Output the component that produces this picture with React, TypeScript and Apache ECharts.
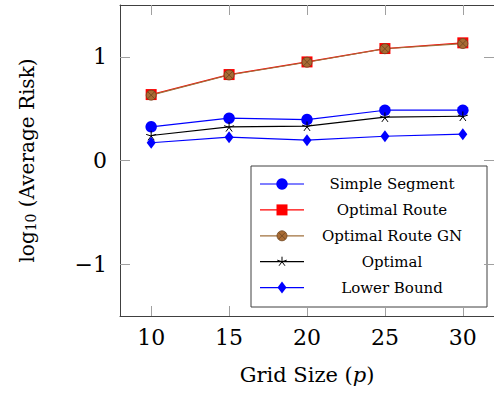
import React, { useEffect, useRef } from 'react';
import * as echarts from 'echarts';

const gridSizes = [10, 15, 20, 25, 30];
const seriesNames = ['Simple Segment', 'Optimal Route', 'Optimal Route GN', 'Optimal', 'Lower Bound'];
const simpleSegment = [0.325, 0.408, 0.395, 0.485, 0.485];
const optimalRoute = [0.636, 0.829, 0.951, 1.08, 1.135];
const optimalRouteGN = [0.63, 0.825, 0.948, 1.078, 1.128];
const optimal = [0.241, 0.325, 0.331, 0.418, 0.427];
const lowerBound = [0.171, 0.225, 0.196, 0.234, 0.254];
const xTicks = [10, 15, 20, 25, 30];
const yTicks = [-1, 0, 1];

const FONT = 'DejaVu Serif';
const BLUE = '#0000ff';
const RED = '#ff0000';
const BROWN = '#a0703c';
const BROWN_FILL = '#a86b34';
const BROWN_DARK = '#6e4520';

const STAR = 'path://M0,0L0,-1M0,0L0.951,-0.309M0,0L0.588,0.809M0,0L-0.588,0.809M0,0L-0.951,-0.309';
const OTIMES = 'path://M0,-1A1,1 0 1,1 0,1A1,1 0 1,1 0,-1ZM-0.707,-0.707L0.707,0.707M-0.707,0.707L0.707,-0.707';

const pairs = (ys: number[]) => gridSizes.map((x, i) => [x, ys[i]]);

export default function App() {
  const ref = useRef<HTMLDivElement>(null);
  useEffect(() => {
    document.body.style.margin = '0';
    const chart = echarts.init(ref.current!, null, { renderer: 'svg' });

    const tick = { inside: true, length: 10, lineStyle: { color: '#a0a0a0', width: 1 } };
    const line = { onZero: false, lineStyle: { color: '#404040', width: 1 } };

    const lx0 = 260, lx1 = 304, mx = 282, tx = 392;
    const rowY = (i: number) => 184 + i * 25.9;
    const legendChildren: any[] = [
      { type: 'rect', shape: { x: 251, y: 166, width: 236, height: 141 }, style: { fill: '#fff', stroke: '#404040', lineWidth: 1 } },
    ];
    const lineColors = [BLUE, RED, BROWN, '#000', BLUE];
    seriesNames.forEach((name, i) => {
      const y = rowY(i);
      legendChildren.push({ type: 'line', shape: { x1: lx0, y1: y, x2: lx1, y2: y }, style: { stroke: lineColors[i], lineWidth: 1.2 } });
      legendChildren.push({ type: 'text', style: { x: tx, y, text: name, align: 'center', verticalAlign: 'middle', fontFamily: FONT, fontSize: 15, fill: '#000' } });
      if (i === 0) legendChildren.push({ type: 'circle', shape: { cx: mx, cy: y, r: 5.7 }, style: { fill: BLUE } });
      if (i === 1) legendChildren.push({ type: 'rect', shape: { x: mx - 5.5, y: y - 5.5, width: 11, height: 11 }, style: { fill: RED } });
      if (i === 2) {
        legendChildren.push({ type: 'circle', shape: { cx: mx, cy: y, r: 5 }, style: { fill: BROWN_FILL, stroke: BROWN_DARK, lineWidth: 0.8 } });
        legendChildren.push({ type: 'line', shape: { x1: mx - 3.5, y1: y - 3.5, x2: mx + 3.5, y2: y + 3.5 }, style: { stroke: BROWN_DARK, lineWidth: 0.8 } });
        legendChildren.push({ type: 'line', shape: { x1: mx - 3.5, y1: y + 3.5, x2: mx + 3.5, y2: y - 3.5 }, style: { stroke: BROWN_DARK, lineWidth: 0.8 } });
      }
      if (i === 3) {
        for (let k = 0; k < 5; k++) {
          const a = -Math.PI / 2 + (k * 2 * Math.PI) / 5;
          legendChildren.push({ type: 'line', shape: { x1: mx, y1: y, x2: mx + 5 * Math.cos(a), y2: y + 5 * Math.sin(a) }, style: { stroke: '#000', lineWidth: 1 } });
        }
      }
      if (i === 4) legendChildren.push({ type: 'polygon', shape: { points: [[mx, y - 6], [mx + 4.5, y], [mx, y + 6], [mx - 4.5, y]] }, style: { fill: BLUE } });
    });

    const baseSeries = (name: string, data: number[], color: string, extra: any) => ({
      name,
      type: 'line',
      data: pairs(data),
      lineStyle: { color, width: 1.2 },
      itemStyle: { color },
      z: 2,
      ...extra,
    });

    chart.setOption({
      animation: false,
      grid: { left: 120, top: 5, width: 380, height: 311 },
      xAxis: [
        {
          type: 'value', min: 8, max: 32, position: 'bottom',
          axisLine: line, axisTick: { ...tick, customValues: xTicks }, splitLine: { show: false },
          axisLabel: { customValues: xTicks, fontFamily: FONT, fontSize: 22, color: '#000', margin: 10 },
          name: 'Grid Size ({i|p})', nameLocation: 'middle', nameGap: 48,
          nameTextStyle: { fontFamily: FONT, fontSize: 21, color: '#000', rich: { i: { fontFamily: FONT, fontSize: 21, fontStyle: 'italic', color: '#000' } } },
        },
        {
          type: 'value', min: 8, max: 32, position: 'top',
          axisLine: line, axisTick: { ...tick, customValues: xTicks }, splitLine: { show: false }, axisLabel: { show: false },
        },
      ],
      yAxis: [
        {
          type: 'value', min: -1.5, max: 1.5, position: 'left',
          axisLine: line, axisTick: { ...tick, customValues: yTicks }, splitLine: { show: false },
          axisLabel: {
            customValues: yTicks, fontFamily: FONT, fontSize: 22, color: '#000', margin: 13,
            formatter: (v: number) => (v < 0 ? '\u2212' + Math.abs(v) : String(v)),
          },
          name: 'log{s|10} (Average Risk)', nameLocation: 'middle', nameRotate: 90, nameGap: 82,
          nameTextStyle: {
            fontFamily: FONT, fontSize: 20, color: '#000',
            rich: { s: { fontFamily: FONT, fontSize: 14, color: '#000', verticalAlign: 'bottom', padding: [8, 0, 0, 0] } },
          },
        },
        {
          type: 'value', min: -1.5, max: 1.5, position: 'right',
          axisLine: line, axisTick: { ...tick, customValues: yTicks }, splitLine: { show: false }, axisLabel: { show: false },
        },
      ],
      series: [
        baseSeries(seriesNames[0], simpleSegment, BLUE, { symbol: 'circle', symbolSize: 11.5 }),
        baseSeries(seriesNames[1], optimalRoute, RED, { symbol: 'rect', symbolSize: 11 }),
        baseSeries(seriesNames[2], optimalRouteGN, BROWN, {
          symbol: OTIMES, symbolSize: 10, itemStyle: { color: BROWN_FILL, borderColor: BROWN_DARK, borderWidth: 0.8 },
        }),
        baseSeries(seriesNames[3], optimal, '#000', {
          symbol: STAR, symbolSize: 10, symbolKeepAspect: true, itemStyle: { color: 'none', borderColor: '#000', borderWidth: 1 },
        }),
        baseSeries(seriesNames[4], lowerBound, BLUE, { symbol: 'diamond', symbolSize: [9, 12] }),
      ],
      graphic: [{ type: 'group', z: 10, children: legendChildren }],
    });
    return () => chart.dispose();
  }, []);
  return <div ref={ref} style={{ width: 494, height: 397 }} />;
}
